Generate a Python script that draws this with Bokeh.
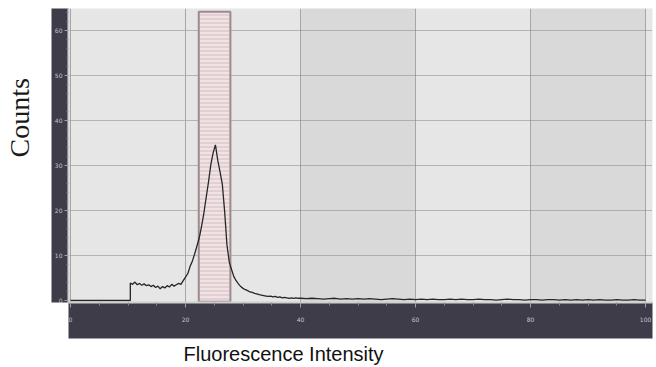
from bokeh.plotting import figure
from bokeh.models import Range1d, FixedTicker, Title, ColumnDataSource, Grid
from bokeh.embed import file_html
from bokeh.resources import INLINE

# ---------------- data ----------------
x_ticks = [0, 20, 40, 60, 80, 100]
x_minor = [5, 10, 15, 25, 30, 35, 45, 50, 55, 65, 70, 75, 85, 90, 95]
y_ticks = [0, 10, 20, 30, 40, 50, 60]
y_minor = [2, 4, 6, 8, 12, 14, 16, 18, 22, 24, 26, 28, 32, 34, 36, 38,
           42, 44, 46, 48, 52, 54, 56, 58, 62, 64]
band_ticks = [40, 60, 80, 100]
extra_vlines = [0, 20]

# empty channels before the population starts
lead_x = [0.0, 10.4]
lead_counts = [0.0, 0.0]

# fine channels 10.4 .. 40.0 (step 0.4)
fine_start, fine_step = 10.4, 0.4
fine_counts = [
    3.9, 3.6, 4.1, 3.5, 3.8, 3.4, 3.7, 3.3, 3.5, 3.1,
    3.4, 2.9, 3.2, 2.6, 3.1, 2.8, 3.3, 3.0, 3.6, 3.2,
    3.5, 3.8, 3.6, 4.4, 5.2, 6.0, 7.6, 8.8, 10.4, 12.2,
    14.0, 16.6, 19.5, 23.0, 26.4, 30.2, 32.8, 34.6,
    31.2, 28.6, 25.8, 19.8, 12.4, 8.6, 6.9, 5.3, 4.4, 3.7,
    3.1, 2.7, 2.4, 2.2, 1.9, 1.8, 1.6, 1.5, 1.3, 1.2,
    1.1, 1.0, 0.9, 1.0, 0.8, 0.9, 0.7, 0.8, 0.6, 0.7,
    0.6, 0.5, 0.6, 0.5, 0.6, 0.5, 0.5,
]

# coarse channels 41 .. 100 (step 1)
coarse_start, coarse_step = 41.0, 1.0
coarse_counts = [
    0.4, 0.5, 0.4, 0.3, 0.4, 0.5, 0.3, 0.4, 0.3, 0.4,
    0.3, 0.4, 0.3, 0.2, 0.3, 0.4, 0.3, 0.2, 0.3, 0.2,
    0.3, 0.2, 0.3, 0.2, 0.2, 0.3, 0.2, 0.3, 0.2, 0.2,
    0.3, 0.2, 0.2, 0.1, 0.2, 0.3, 0.2, 0.2, 0.1, 0.2,
    0.2, 0.1, 0.2, 0.2, 0.1, 0.2, 0.1, 0.2, 0.1, 0.2,
    0.1, 0.2, 0.1, 0.1, 0.2, 0.1, 0.1, 0.2, 0.1, 0.1,
]

gate_left, gate_right = 22.3, 27.8
gate_bottom, gate_top = -0.3, 64.2

# ---------------- build series ----------------
xs = list(lead_x)
ys = list(lead_counts)
for i, c in enumerate(fine_counts):
    xs.append(fine_start + fine_step * i)
    ys.append(c)
for i, c in enumerate(coarse_counts):
    xs.append(coarse_start + coarse_step * i)
    ys.append(c)
hist = ColumnDataSource(dict(x=xs, y=ys))

# ---------------- figure ----------------
p = figure(width=656, height=367,
           x_range=Range1d(-0.35, 101.2), y_range=Range1d(-0.44, 64.9),
           output_backend="svg", toolbar_location=None,
           min_border_left=68, min_border_right=4,
           min_border_top=8, min_border_bottom=65)
p.background_fill_color = "#e6e6e6"
p.border_fill_color = "white"
p.outline_line_color = None

# grids
p.xgrid.ticker = FixedTicker(ticks=band_ticks)
p.xgrid.grid_line_color = "#a6a6a6"
p.xgrid.grid_line_width = 1
p.xgrid.band_fill_color = "#d9d9d9"
p.xgrid.band_fill_alpha = 1.0
p.add_layout(Grid(dimension=0, ticker=FixedTicker(ticks=extra_vlines),
                  grid_line_color="#a6a6a6", grid_line_width=1))
p.ygrid.ticker = FixedTicker(ticks=y_ticks[1:])
p.ygrid.grid_line_color = "#828282"
p.ygrid.grid_line_dash = "1 1"
p.ygrid.grid_line_width = 1

# axes
dark = "#3e3c48"
for ax in (p.xaxis[0], p.yaxis[0]):
    ax.background_fill_color = dark
    ax.axis_line_color = "#d0d0d0"
    ax.axis_line_width = 2
    ax.major_tick_line_color = "#a0a0aa"
    ax.minor_tick_line_color = "#8a8a96"
    ax.major_tick_in = 0
    ax.minor_tick_in = 0
    ax.major_label_text_color = "#c4c4cc"
    ax.major_label_text_font_size = "6px"
    ax.major_label_text_font = "DejaVu Sans"

p.xaxis.ticker = FixedTicker(ticks=x_ticks, minor_ticks=x_minor)
p.xaxis.major_tick_out = 5
p.xaxis.minor_tick_out = 3
p.xaxis.major_label_standoff = 9
p.xaxis.axis_label = " "
p.xaxis.axis_label_text_font_size = "8px"
p.xaxis.axis_label_standoff = 2

p.yaxis.ticker = FixedTicker(ticks=y_ticks, minor_ticks=y_minor)
p.yaxis.major_tick_out = 4
p.yaxis.minor_tick_out = 2
p.yaxis.major_label_standoff = 2
p.yaxis.major_label_orientation = "horizontal"

# gate
p.quad(left=[gate_left], right=[gate_right], bottom=[gate_bottom], top=[gate_top],
       fill_color="#f1e2e4", fill_alpha=0.9, line_color="#9b8a8e", line_width=2,
       hatch_pattern="-", hatch_color="#d6bcc0", hatch_scale=4, hatch_weight=1)

# histogram
p.line("x", "y", source=hist, line_color="#262626", line_width=1.3)

# axis titles (a blank spacer title keeps "Counts" away from the axis)
p.add_layout(Title(text=" ", standoff=0, text_font_size="13px"), "left")
p.add_layout(Title(text="Counts", align="left", offset=145, standoff=0,
                   text_font="Liberation Serif", text_font_size="28px",
                   text_font_style="normal", text_color="#1a1a1a"), "left")
p.add_layout(Title(text="Fluorescence Intensity", align="left", offset=115, standoff=4,
                   text_font="Liberation Sans", text_font_size="20px",
                   text_font_style="normal", text_color="#111111"), "below")

open("out.html", "w").write(file_html(p, INLINE))
